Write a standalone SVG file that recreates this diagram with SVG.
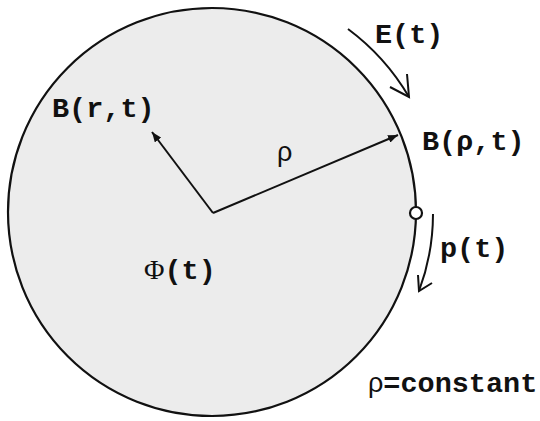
<svg xmlns="http://www.w3.org/2000/svg" width="540" height="421" viewBox="0 0 540 421">
<style>
.mono{font-family:"Liberation Mono","Courier New",monospace;font-weight:bold;font-size:28.5px;fill:#111}
.sym{font-family:"Liberation Sans",Arial,sans-serif;font-weight:normal;font-size:27px;fill:#111}
.phi{font-family:"Liberation Serif","Times New Roman",serif;font-weight:normal;font-size:28px;fill:#111}
.line{fill:none;stroke:#111;stroke-width:2}
</style>
<defs>
<marker id="head" viewBox="0 0 10 8" markerWidth="10" markerHeight="8" refX="10" refY="4" markerUnits="userSpaceOnUse" orient="auto">
<path d="M0,0 L10,4 L0,8 z" fill="#111"/>
</marker>
</defs>
<g id="disk">
<circle cx="212" cy="212" r="204" fill="#ececec" stroke="#111" stroke-width="2.2"/>
</g>
<g id="point">
<circle cx="416" cy="213" r="6" fill="#fff" stroke="#111" stroke-width="2.2"/>
</g>
<g id="connectors">
<path class="line" d="M213,213 L398,135" marker-end="url(#head)"/>
<path class="line" d="M213,213 L152,132" marker-end="url(#head)"/>
<path class="line" d="M348,29 A228,228 0 0 1 409,97"/>
<path class="line" d="M390,87 L409,97 L407,74"/>
<path class="line" d="M433,214 A221,221 0 0 1 419,291"/>
<path class="line" d="M418,275 L419,291 L432,283"/>
</g>
<g id="labels">
<text class="mono" x="375" y="43">E(t)</text>
<text class="mono" x="52" y="117">B(r,t)</text>
<text class="mono" x="422" y="150">B(ρ,t)</text>
<text class="mono" x="440" y="257">p(t)</text>
<text class="mono" x="144" y="279"><tspan class="phi">Φ</tspan>(t)</text>
<text class="sym" x="277" y="161">ρ</text>
<text class="mono" x="368" y="392"><tspan class="sym">ρ</tspan>=constant</text>
</g>
</svg>
